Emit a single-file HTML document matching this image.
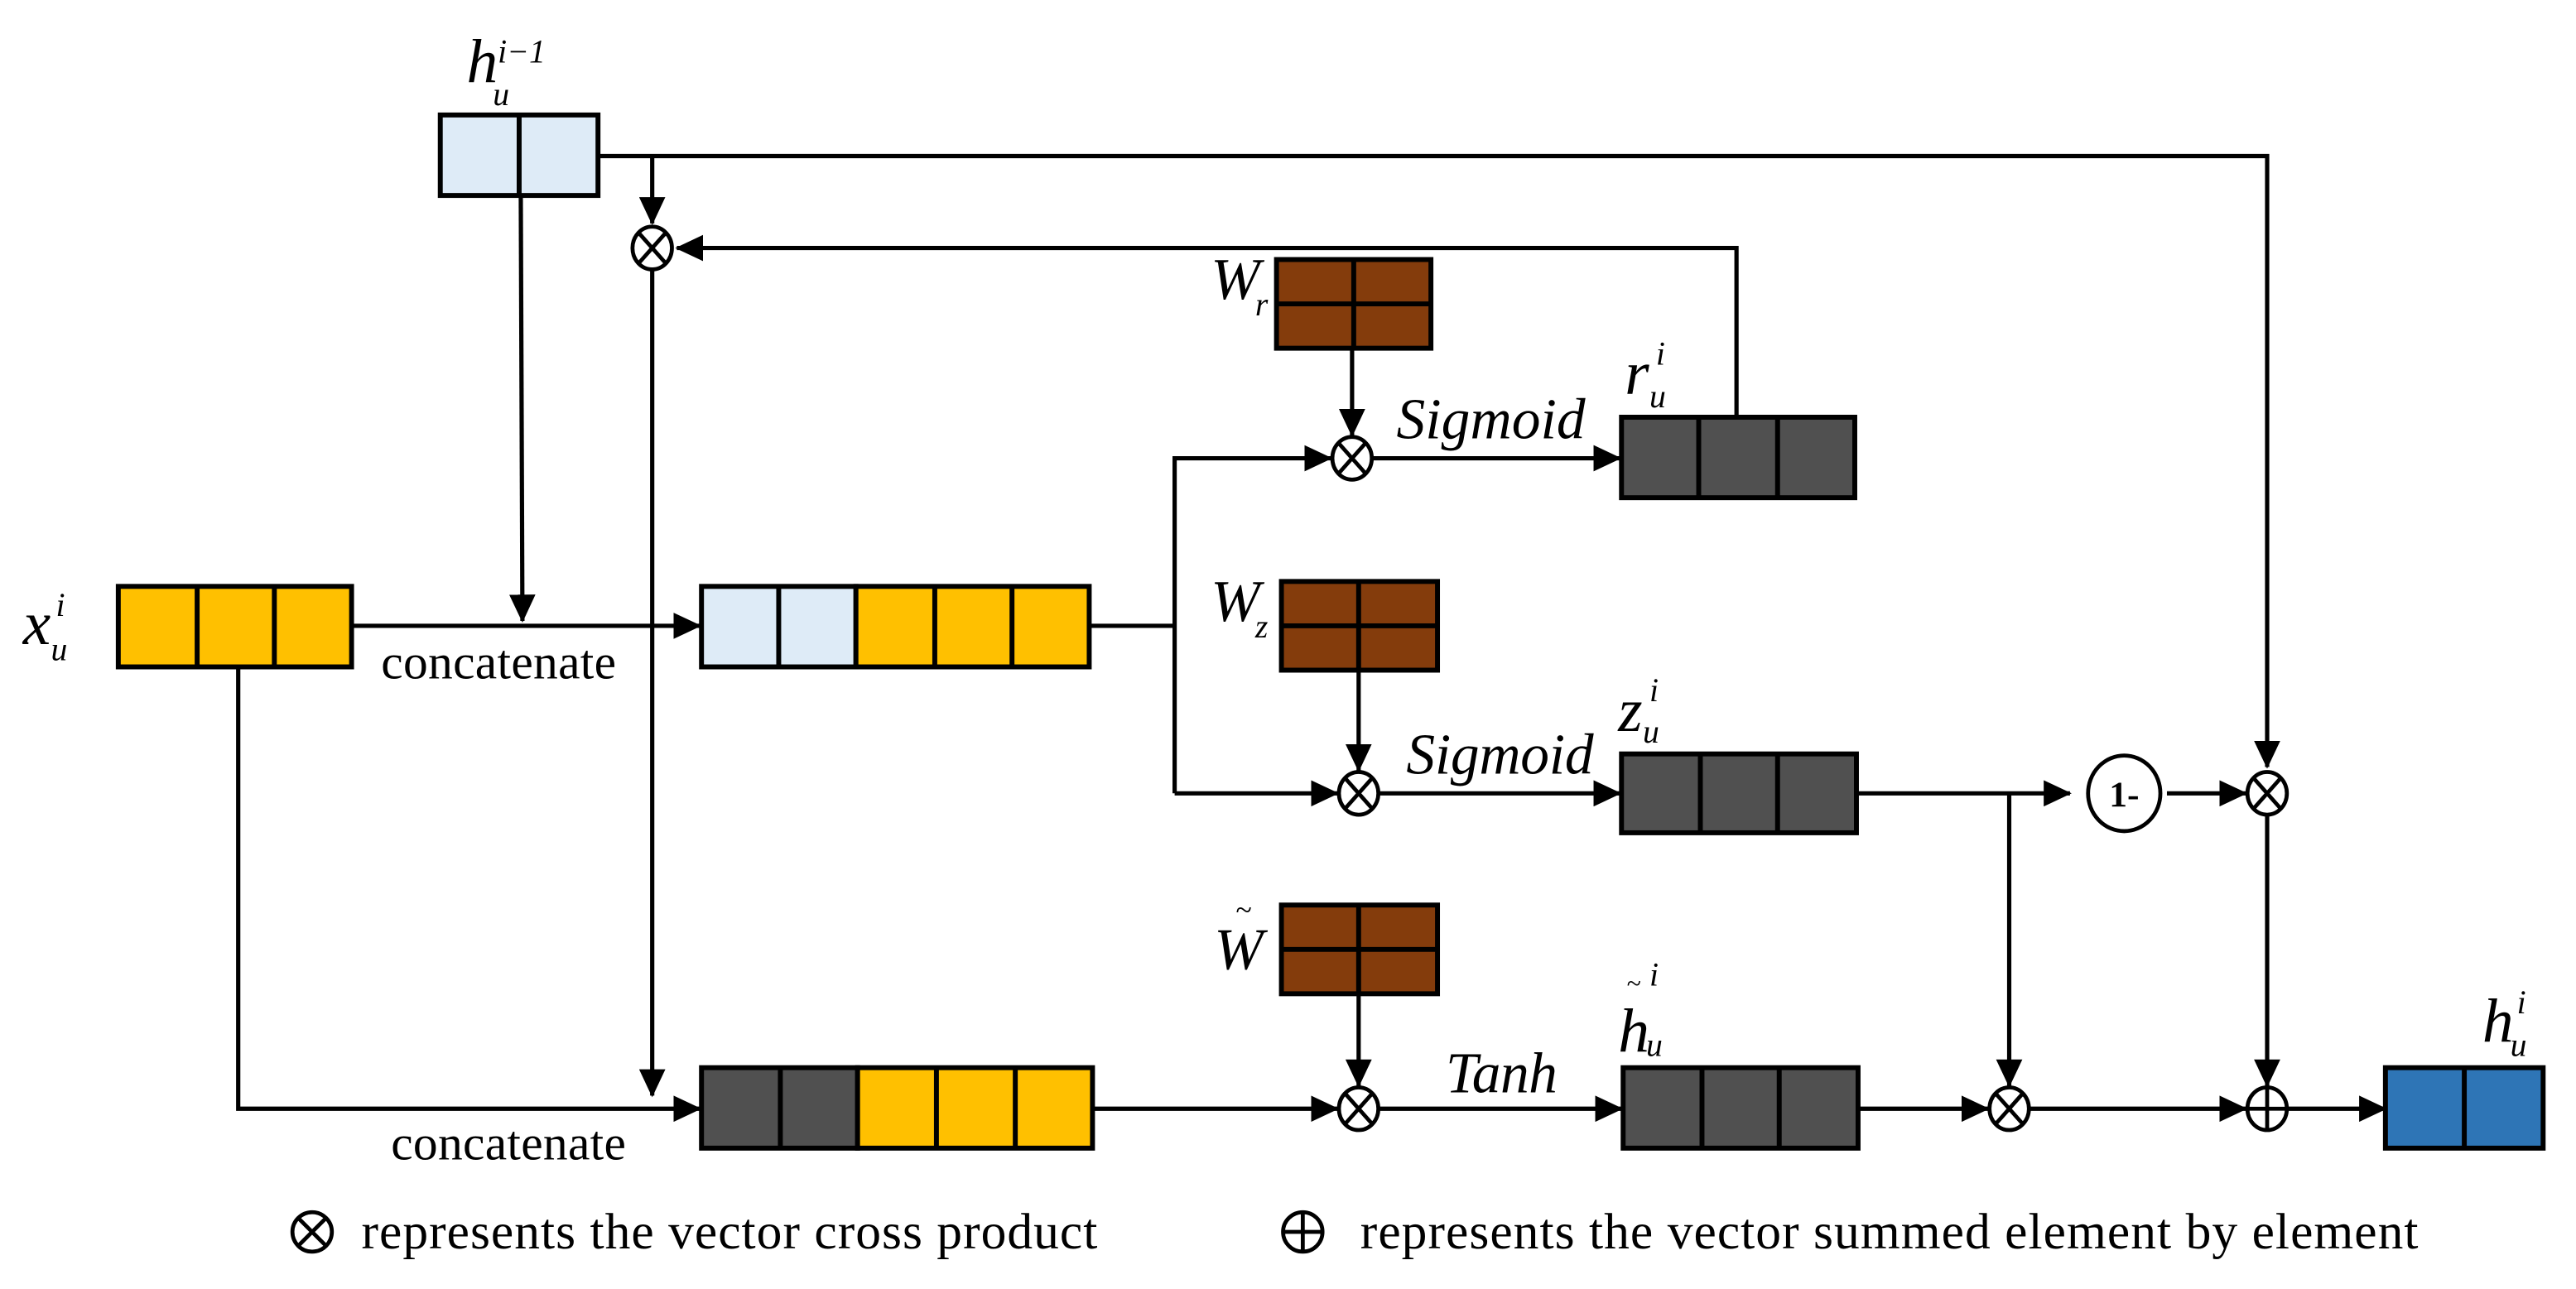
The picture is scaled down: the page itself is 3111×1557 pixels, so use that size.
<!DOCTYPE html>
<html><head><meta charset="utf-8"><style>
html,body{margin:0;padding:0;background:#fff;}
svg{display:block;}
text{font-family:"Liberation Serif","Times New Roman",serif;fill:#000;}
.it{font-style:italic;}
</style></head><body>
<svg width="3111" height="1557" viewBox="0 0 1568 784.75" xmlns="http://www.w3.org/2000/svg">
<defs>
<marker id="a" markerUnits="userSpaceOnUse" markerWidth="18" markerHeight="16" refX="16" refY="8" orient="auto">
<path d="M0,0 L17,8 L0,16 Z" fill="#000"/>
</marker>
</defs>
<g stroke="#000" stroke-width="2.6" fill="none">
<polyline points="364,95 1380,95 1380,467" marker-end="url(#a)"/>
<line x1="397" y1="95" x2="397" y2="136" marker-end="url(#a)"/>
<polyline points="1057,254 1057,151 412,151" marker-end="url(#a)"/>
<line x1="397" y1="165" x2="397" y2="667" marker-end="url(#a)"/>
<line x1="317" y1="119" x2="318" y2="378" marker-end="url(#a)"/>
<line x1="214" y1="381" x2="426" y2="381" marker-end="url(#a)"/>
<polyline points="145,406 145,675 426,675" marker-end="url(#a)"/>
<polyline points="663,381 715,381"/>
<polyline points="715,483 715,279 810,279" marker-end="url(#a)"/>
<line x1="715" y1="483" x2="814" y2="483" marker-end="url(#a)"/>
<line x1="823" y1="212" x2="823" y2="265" marker-end="url(#a)"/>
<line x1="827" y1="408" x2="827" y2="469" marker-end="url(#a)"/>
<line x1="827" y1="605" x2="827" y2="661" marker-end="url(#a)"/>
<line x1="836" y1="279" x2="986" y2="279" marker-end="url(#a)"/>
<line x1="840" y1="483" x2="986" y2="483" marker-end="url(#a)"/>
<line x1="665" y1="675" x2="814" y2="675" marker-end="url(#a)"/>
<line x1="840" y1="675" x2="987" y2="675" marker-end="url(#a)"/>
<line x1="1130" y1="483" x2="1260" y2="483" marker-end="url(#a)"/>
<line x1="1223" y1="483" x2="1223" y2="661" marker-end="url(#a)"/>
<line x1="1319" y1="483" x2="1367" y2="483" marker-end="url(#a)"/>
<line x1="1380" y1="497" x2="1380" y2="661" marker-end="url(#a)"/>
<line x1="1131" y1="675" x2="1210" y2="675" marker-end="url(#a)"/>
<line x1="1236" y1="675" x2="1367" y2="675" marker-end="url(#a)"/>
<line x1="1393" y1="675" x2="1452" y2="675" marker-end="url(#a)"/>
</g>
<g stroke="#000" stroke-width="3">
<rect x="268" y="70" width="96" height="49" fill="#DEEBF7"/><line x1="316" y1="70" x2="316" y2="119"/>
<rect x="72" y="357" width="142" height="49" fill="#FFC000"/><line x1="120" y1="357" x2="120" y2="406"/><line x1="167" y1="357" x2="167" y2="406"/>
<rect x="427" y="357" width="94" height="49" fill="#DEEBF7"/><rect x="521" y="357" width="142" height="49" fill="#FFC000"/>
<line x1="474" y1="357" x2="474" y2="406"/><line x1="569" y1="357" x2="569" y2="406"/><line x1="616" y1="357" x2="616" y2="406"/>
<rect x="427" y="650" width="95" height="49" fill="#505050"/><rect x="522" y="650" width="143" height="49" fill="#FFC000"/>
<line x1="475" y1="650" x2="475" y2="699"/><line x1="570" y1="650" x2="570" y2="699"/><line x1="618" y1="650" x2="618" y2="699"/>
<rect x="777" y="158" width="94" height="54" fill="#843C0C"/><line x1="824" y1="158" x2="824" y2="212"/><line x1="777" y1="185" x2="871" y2="185"/>
<rect x="780" y="354" width="95" height="54" fill="#843C0C"/><line x1="827" y1="354" x2="827" y2="408"/><line x1="780" y1="381" x2="875" y2="381"/>
<rect x="780" y="551" width="95" height="54" fill="#843C0C"/><line x1="827" y1="551" x2="827" y2="605"/><line x1="780" y1="578" x2="875" y2="578"/>
<rect x="987" y="254" width="142" height="49" fill="#505050"/><line x1="1034" y1="254" x2="1034" y2="303"/><line x1="1082" y1="254" x2="1082" y2="303"/>
<rect x="987" y="459" width="143" height="48" fill="#505050"/><line x1="1035" y1="459" x2="1035" y2="507"/><line x1="1082" y1="459" x2="1082" y2="507"/>
<rect x="988" y="650" width="143" height="49" fill="#505050"/><line x1="1036" y1="650" x2="1036" y2="699"/><line x1="1083" y1="650" x2="1083" y2="699"/>
<rect x="1452" y="650" width="96" height="49" fill="#2E75B6"/><line x1="1500" y1="650" x2="1500" y2="699"/>
</g>
<g stroke="#000" stroke-width="2.4" fill="#fff">
<g transform="translate(397,151)"><ellipse rx="12" ry="13"/><line x1="-8" y1="-9" x2="8" y2="9"/><line x1="8" y1="-9" x2="-8" y2="9"/></g>
<g transform="translate(823,279)"><ellipse rx="12" ry="13"/><line x1="-8" y1="-9" x2="8" y2="9"/><line x1="8" y1="-9" x2="-8" y2="9"/></g>
<g transform="translate(827,483)"><ellipse rx="12" ry="13"/><line x1="-8" y1="-9" x2="8" y2="9"/><line x1="8" y1="-9" x2="-8" y2="9"/></g>
<g transform="translate(827,675)"><ellipse rx="12" ry="13"/><line x1="-8" y1="-9" x2="8" y2="9"/><line x1="8" y1="-9" x2="-8" y2="9"/></g>
<g transform="translate(1380,483)"><ellipse rx="12" ry="13"/><line x1="-8" y1="-9" x2="8" y2="9"/><line x1="8" y1="-9" x2="-8" y2="9"/></g>
<g transform="translate(1223,675)"><ellipse rx="12" ry="13"/><line x1="-8" y1="-9" x2="8" y2="9"/><line x1="8" y1="-9" x2="-8" y2="9"/></g>
<g transform="translate(1380,675)"><ellipse rx="12" ry="13"/><line x1="-12" y1="0" x2="12" y2="0"/><line x1="0" y1="-13" x2="0" y2="13"/></g>
<ellipse cx="1293" cy="483" rx="22" ry="23"/>
<g transform="translate(190,750)"><circle r="12"/><line x1="-8" y1="-8" x2="8" y2="8"/><line x1="8" y1="-8" x2="-8" y2="8"/></g>
<g transform="translate(793,750)"><circle r="12"/><line x1="-12" y1="0" x2="12" y2="0"/><line x1="0" y1="-12" x2="0" y2="12"/></g>
</g>
<text x="1293" y="491" font-size="22" text-anchor="middle" font-weight="bold">1-</text>
<text x="232" y="413" font-size="30" textLength="143">concatenate</text>
<text x="238" y="706" font-size="30" textLength="143">concatenate</text>
<text x="850" y="267" font-size="35" class="it" textLength="115">Sigmoid</text>
<text x="856" y="471" font-size="35" class="it" textLength="114">Sigmoid</text>
<text x="880" y="665" font-size="35" class="it" textLength="68">Tanh</text>
<text x="220" y="760" font-size="31" textLength="448">represents the vector cross product</text>
<text x="828" y="760" font-size="31" textLength="644">represents the vector summed element by element</text>
<text x="284" y="50" font-size="38" class="it">h</text><text x="300" y="64" font-size="20" class="it">u</text><text x="303" y="38" font-size="20" class="it">i−1</text>
<text x="14" y="392" font-size="38" class="it">x</text><text x="31" y="402" font-size="20" class="it">u</text><text x="34" y="375" font-size="20" class="it">i</text>
<text x="737" y="182" font-size="36" class="it">W</text><text x="764" y="192" font-size="20" class="it">r</text>
<text x="737" y="378" font-size="36" class="it">W</text><text x="764" y="388" font-size="20" class="it">z</text>
<text x="739" y="590" font-size="36" class="it">W</text><text x="752" y="560" font-size="18" class="it">~</text>
<text x="989" y="240" font-size="38" class="it">r</text><text x="1004" y="248" font-size="20" class="it">u</text><text x="1008" y="222" font-size="20" class="it">i</text>
<text x="985" y="445" font-size="38" class="it">z</text><text x="1000" y="452" font-size="20" class="it">u</text><text x="1004" y="427" font-size="20" class="it">i</text>
<text x="985" y="640" font-size="38" class="it">h</text><text x="1002" y="643" font-size="20" class="it">u</text><text x="990" y="604" font-size="16" class="it">~</text><text x="1004" y="600" font-size="20" class="it">i</text>
<text x="1511" y="634" font-size="38" class="it">h</text><text x="1528" y="643" font-size="20" class="it">u</text><text x="1532" y="617" font-size="20" class="it">i</text>
</svg>
</body></html>
